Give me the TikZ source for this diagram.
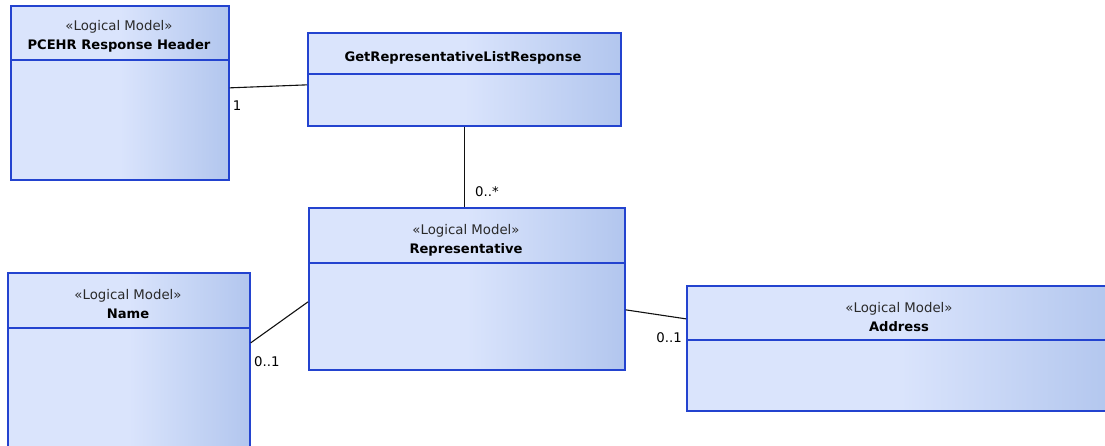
\documentclass[tikz,border=0pt]{standalone}
\usepackage{fontspec}
\setmainfont{DejaVu Sans}
\usetikzlibrary{calc}

\definecolor{boxL}{HTML}{DAE4FC}
\definecolor{boxR}{HTML}{B2C6EE}
\definecolor{boxEdge}{HTML}{2343CF}
\definecolor{wire}{HTML}{111111}
\definecolor{stereoText}{HTML}{2A2A2A}

% light on the left half, deepening towards the right edge
\pgfdeclarehorizontalshading{classfill}{100bp}{%
  color(0bp)=(boxL); color(25bp)=(boxL); color(50bp)=(boxL);
  color(75bp)=(boxR); color(100bp)=(boxR)}

\tikzset{
  classbox/.style={rectangle, draw=boxEdge, line width=1.7pt, shade,
    shading=classfill, inner sep=0pt, anchor=north west},
  divider/.style={draw=boxEdge, line width=1.7pt},
  assoc/.style={draw=wire, line width=1.1pt},
  stereo/.style={font=\fontsize{13.3}{15}\selectfont, text=stereoText,
    anchor=base, inner sep=0pt},
  cname/.style={font=\fontsize{13.1}{15}\selectfont\bfseries, text=black,
    anchor=base, inner sep=0pt},
  mult/.style={font=\fontsize{13.3}{15}\selectfont, text=black,
    inner sep=0pt},
}

\begin{document}
\begin{tikzpicture}[x=1pt, y=-1pt]
\clip (0,0) rectangle (1105,445);
\fill[white] (0,0) rectangle (1105,445);

% class boxes
\node[classbox, minimum width=218pt, minimum height=174pt] (hdr)  at (10,5)   {};
\node[classbox, minimum width=313pt, minimum height=93pt]  (resp) at (307,32)  {};
\node[classbox, minimum width=316pt, minimum height=162pt] (rep)  at (308,207) {};
\node[classbox, minimum width=242pt, minimum height=190pt] (name) at (7,272)   {};
\node[classbox, minimum width=428pt, minimum height=125pt] (addr) at (686,285) {};

% compartment dividers
\draw[divider] (hdr.west  |- 0,60)  -- (hdr.east  |- 0,60);
\draw[divider] (resp.west |- 0,74)  -- (resp.east |- 0,74);
\draw[divider] (rep.west  |- 0,263) -- (rep.east  |- 0,263);
\draw[divider] (name.west |- 0,328) -- (name.east |- 0,328);
\draw[divider] (addr.west |- 0,340) -- (addr.east |- 0,340);

% class titles
\node[stereo] (hdrS)  at (119,30)  {«Logical Model»};
\node[cname]  (hdrN)  at (119,49)  {PCEHR Response Header};
\node[cname]  (respN) at (463,61)  {GetRepresentativeListResponse};
\node[stereo] (repS)  at (466,234) {«Logical Model»};
\node[cname]  (repN)  at (466,253) {Representative};
\node[stereo] (nameS) at (128,299) {«Logical Model»};
\node[cname]  (nameN) at (128,318) {Name};
\node[stereo] (addrS) at (899,312) {«Logical Model»};
\node[cname]  (addrN) at (899,331) {Address};

% associations
\draw[assoc] ([yshift=5pt]hdr.east) -- ([yshift=-5.5pt]resp.west);
\draw[assoc] (resp.south) -- (resp.south |- rep.north);
\draw[assoc] ([yshift=25pt]name.east) -- ([yshift=-13pt]rep.west);
\draw[assoc] ([yshift=-21pt]rep.east) -- ([yshift=29.5pt]addr.west);

% multiplicities
\node[mult, anchor=base]       (m1)  at (237,110.5) {1};
\node[mult, anchor=base west]  (m2)  at (475,196.5) {0..*};
\node[mult, anchor=base west]  (m3)  at (254,366.5) {0..1};
\node[mult, anchor=base east]  (m4)  at (682,342.5) {0..1};
\end{tikzpicture}
\end{document}
